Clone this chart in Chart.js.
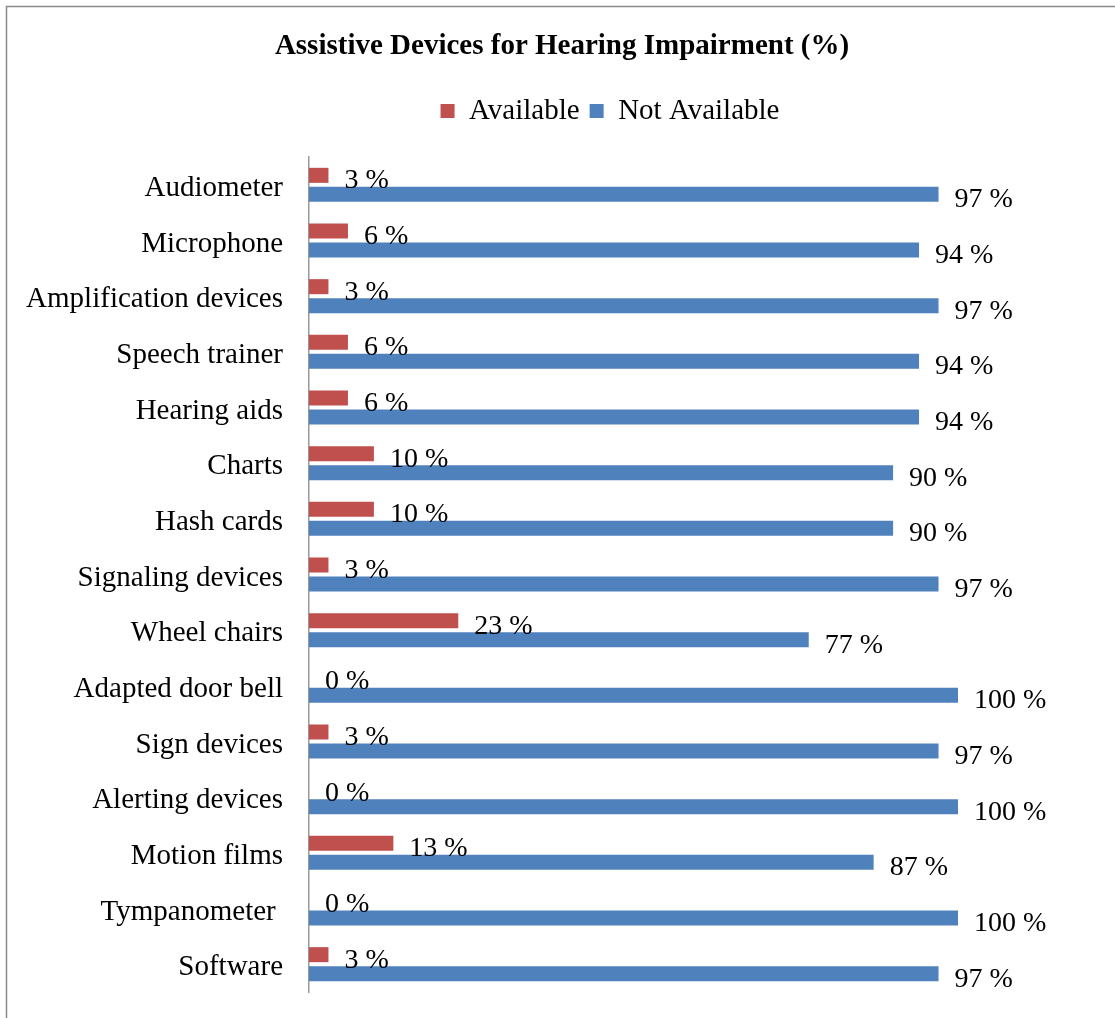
<!DOCTYPE html>
<html>
<head>
<meta charset="utf-8">
<script src="https://cdn.jsdelivr.net/npm/chart.js@4/dist/chart.umd.min.js"></script>
<style>
  html, body { margin: 0; padding: 0; background: #ffffff; }
  canvas { display: block; }
</style>
</head>
<body>
<canvas id="c" width="1115" height="1018"></canvas>
<script>
const categories = [
  "Audiometer", "Microphone", "Amplification devices", "Speech trainer",
  "Hearing aids", "Charts", "Hash cards", "Signaling devices", "Wheel chairs",
  "Adapted door bell", "Sign devices", "Alerting devices", "Motion films",
  "Tympanometer ", "Software"
];
const available    = [3, 6, 3, 6, 6, 10, 10, 3, 23, 0, 3, 0, 13, 0, 3];
const notAvailable = [97, 94, 97, 94, 94, 90, 90, 97, 77, 100, 97, 100, 87, 100, 97];
const seriesNames = ["Available", "Not Available"];
const titleText = "Assistive Devices for Hearing Impairment (%)";

const FONT = "'Liberation Serif', 'Times New Roman', serif";

const framePlugin = {
  id: 'frame',
  beforeDraw(chart) {
    const ctx = chart.ctx;
    ctx.save();
    ctx.fillStyle = '#ffffff';
    ctx.fillRect(0, 0, chart.width, chart.height);
    ctx.strokeStyle = '#8c8c8c';
    ctx.lineWidth = 1.5;
    ctx.strokeRect(6.5, 6.5, chart.width + 50, chart.height + 50);
    ctx.restore();
  }
};

const shiftPlugin = {
  id: 'shift',
  afterLayout(chart) {
    const t = chart.titleBlock;
    if (t) {
      const d = 562 - (t.left + t.right) / 2;
      t.left += d; t.right += d;
    }
    const l = chart.legend;
    if (l) {
      const d = 610 - (l.left + l.right) / 2;
      l.left += d; l.right += d;
    }
  }
};

const labelPlugin = {
  id: 'valueLabels',
  afterDatasetsDraw(chart) {
    const ctx = chart.ctx;
    ctx.save();
    ctx.font = "28px " + FONT;
    ctx.fillStyle = '#000000';
    ctx.textAlign = 'left';
    ctx.textBaseline = 'middle';
    chart.data.datasets.forEach((ds, i) => {
      const meta = chart.getDatasetMeta(i);
      meta.data.forEach((el, j) => {
        ctx.fillText(ds.data[j] + " %", el.x + 16, el.y + 5.5);
      });
    });
    ctx.restore();
  }
};

new Chart(document.getElementById('c'), {
  type: 'bar',
  data: {
    labels: categories,
    datasets: [
      { label: seriesNames[0], data: available, backgroundColor: '#C0504D',
        categoryPercentage: 0.683, barPercentage: 0.79 },
      { label: seriesNames[1], data: notAvailable, backgroundColor: '#4F81BD',
        categoryPercentage: 0.683, barPercentage: 0.79 }
    ]
  },
  options: {
    indexAxis: 'y',
    responsive: false,
    animation: false,
    layout: { padding: { left: 0, right: 157, top: 0, bottom: 26 } },
    plugins: {
      title: {
        display: true,
        text: titleText,
        color: '#000000',
        font: { family: FONT, size: 29, weight: 'bold' },
        padding: { top: 29.5, bottom: 22.2 }
      },
      legend: {
        display: true,
        position: 'top',
        labels: {
          color: '#000000',
          font: { family: FONT, size: 29 },
          boxWidth: 14,
          boxHeight: 14,
          padding: 10
        }
      },
      tooltip: { enabled: false }
    },
    scales: {
      x: {
        position: 'top',
        min: 0,
        max: 100,
        ticks: { display: false },
        grid: { display: false, drawTicks: false },
        border: { display: false },
        afterFit(s) { s.height = 21.5; s.paddingLeft = 0; s.paddingRight = 0; }
      },
      y: {
        ticks: {
          color: '#000000',
          font: { family: FONT, size: 29 },
          padding: 26,
          labelOffset: 3.5
        },
        grid: { display: false, drawTicks: false },
        border: { display: true, color: '#9a9a9a', width: 1.5 },
        afterFit(s) { s.width = 309; s.paddingTop = 0; s.paddingBottom = 0; }
      }
    }
  },
  plugins: [framePlugin, shiftPlugin, labelPlugin]
});
</script>
</body>
</html>
